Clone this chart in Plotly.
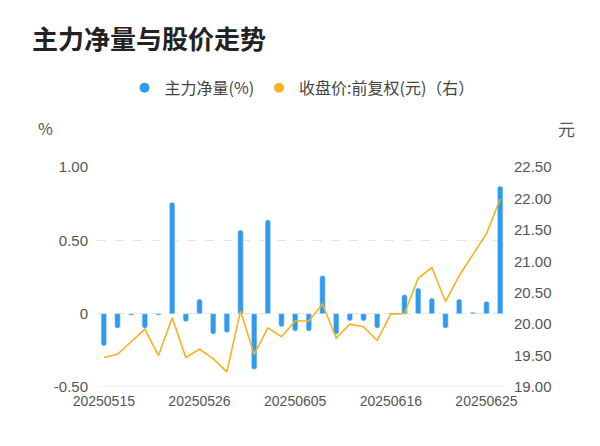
import plotly.graph_objects as go

dates = ["20250515","20250516","20250519","20250520","20250521","20250522","20250523",
         "20250526","20250527","20250528","20250529","20250530","20250603","20250604",
         "20250605","20250606","20250609","20250610","20250611","20250612","20250613",
         "20250616","20250617","20250618","20250619","20250620","20250623","20250624",
         "20250625","20250626"]
flow = [-0.22,-0.10,-0.01,-0.10,-0.01,0.76,-0.055,0.10,-0.14,-0.13,0.57,-0.38,0.64,-0.09,
        -0.12,-0.12,0.26,-0.14,-0.05,-0.05,-0.10,0.005,0.13,0.175,0.107,-0.10,0.10,0.01,0.085,0.87]
price = [19.47,19.52,19.72,19.92,19.50,20.10,19.47,19.60,19.45,19.24,20.21,19.52,19.94,19.80,
         20.05,20.05,20.32,19.78,20.00,19.96,19.74,20.16,20.17,20.73,20.90,20.36,20.77,21.10,21.44,21.99]
tick_dates = ["20250515","20250526","20250605","20250616","20250625"]

font = "Noto Sans CJK SC"
num = "Liberation Sans"
blue, orange = "#2f9bf0", "#f7b21e"
fig = go.Figure()
fig.add_trace(go.Bar(x=dates, y=flow, marker_color=blue, width=0.4, yaxis="y", showlegend=False))
fig.add_trace(go.Scatter(x=dates, y=price, mode="lines", line=dict(color=orange, width=1.6),
                         yaxis="y2", showlegend=False))
fig.add_trace(go.Scatter(x=[None], y=[None], mode="markers", name="主力净量(%)",
                         marker=dict(color=blue, size=10, symbol="circle")))
fig.add_trace(go.Scatter(x=[None], y=[None], mode="markers", name="收盘价:前复权(元)（右）",
                         marker=dict(color=orange, size=10, symbol="circle")))
fig.update_layout(
    width=600, height=446, margin=dict(l=89, r=101, t=159, b=67),
    paper_bgcolor="white", plot_bgcolor="white",
    font=dict(family=font, color="#555", size=14),
    barcornerradius=3,
    title=dict(text="<b>主力净量与股价走势</b>", x=0.04, y=0.95, xanchor="left", yanchor="top",
               font=dict(size=26, color="#222", family=font)),
    legend=dict(orientation="h", x=0.5, xanchor="center", y=1.36, yanchor="middle",
                font=dict(size=16, color="#444"), itemwidth=30, tracegroupgap=0),
    xaxis=dict(type="category", range=[-0.5, 29.5], tickvals=tick_dates, ticktext=tick_dates,
               showgrid=False, showline=False, ticks="", ticklabelstandoff=4,
               tickfont=dict(size=14, color="#555", family=num)),
    yaxis=dict(range=[-0.5, 1.0], tickvals=[-0.5, 0, 0.5, 1.0],
               ticktext=["-0.50", "0", "0.50", "1.00"], showgrid=True, gridcolor="#e3e3e3",
               griddash="dash", zeroline=False, ticks="", ticklabelstandoff=8,
               tickfont=dict(size=15, color="#555", family=num)),
    yaxis2=dict(range=[19.0, 22.5], tickvals=[19 + 0.5*i for i in range(8)],
                ticktext=[f"{19 + 0.5*i:.2f}" for i in range(8)], overlaying="y", side="right",
                showgrid=False, zeroline=False, ticks="", ticklabelstandoff=6,
                tickfont=dict(size=15, color="#555", family=num)),
    annotations=[
        dict(text="%", xref="paper", yref="paper", x=-0.15, y=1.24, showarrow=False,
             xanchor="left", font=dict(size=16, color="#555")),
        dict(text="元", xref="paper", yref="paper", x=1.12, y=1.24, showarrow=False,
             xanchor="left", font=dict(size=17, color="#555")),
    ],
)
fig.add_shape(type="line", xref="paper", yref="y", x0=0, x1=1, y0=-0.5, y1=-0.5,
              line=dict(color="#e6e6e6", width=1))
fig.write_html("out.html")
